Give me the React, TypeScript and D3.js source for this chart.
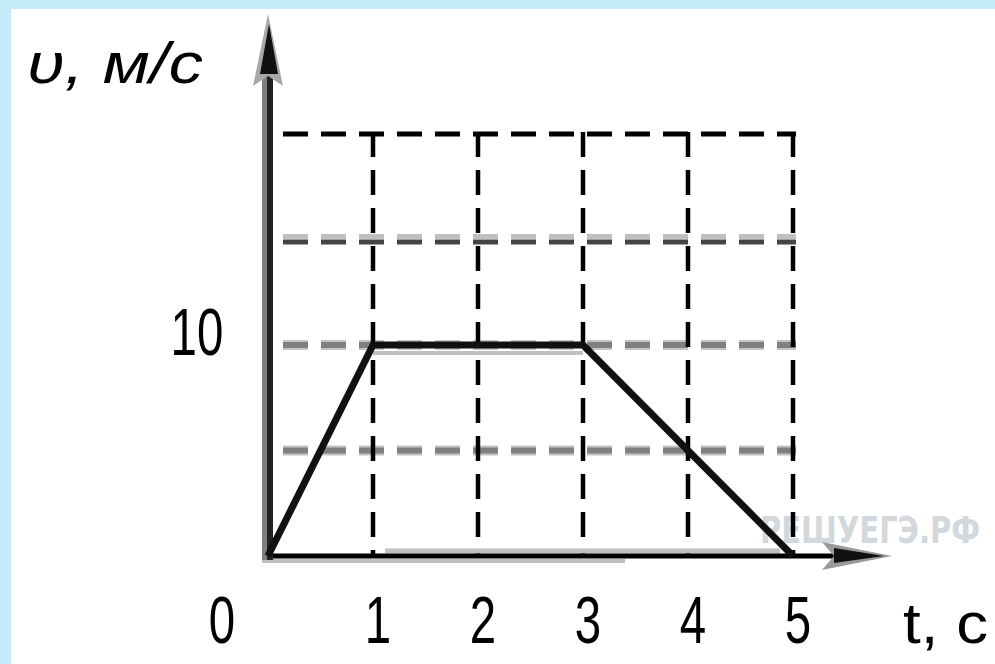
import React from "react";
import * as d3 from "d3";

const timeTicks = [1, 2, 3, 4, 5];
const speedGrid = [5, 10, 15, 20];
const tValues = [0, 1, 3, 5];
const vValues = [0, 10, 10, 0];
const xTickLabels = ["0", "1", "2", "3", "4", "5"];
const yTickLabel = "10";
const yAxisTitle = "υ, м/с";
const xAxisTitle = "t, с";
const watermark = "РЕШУЕГЭ.РФ";

const W = 995;
const H = 664;

export default function App() {
  const x = d3.scaleLinear().domain([0, 5]).range([268, 793]);
  const y = d3.scaleLinear().domain([0, 20]).range([556, 134]);
  const pts: [number, number][] = tValues.map((t, i) => [x(t), y(vValues[i])]);
  const line = d3.line<[number, number]>().x((d) => d[0]).y((d) => d[1]);
  const gridX0 = x(0) + 15;
  const gridX1 = x(5) + 3;
  const dash = "25 13";
  const digitFont = "'Liberation Sans', sans-serif";
  const digitAdv = 26.4;

  return (
    <svg
      width={W}
      height={H}
      style={{ position: "absolute", left: 0, top: 0 }}
      xmlns="http://www.w3.org/2000/svg"
    >
      <rect x={0} y={0} width={W} height={H} fill="#c6ebfb" />
      <rect x={11} y={9} width={W - 11} height={H - 9} fill="#ffffff" />

      {/* watermark */}
      <text
        x={760}
        y={543}
        fontFamily="'DejaVu Sans', sans-serif"
        fontWeight="bold"
        fontSize={38}
        fill="#d3d8dc"
        textLength={220}
        lengthAdjust="spacingAndGlyphs"
      >
        {watermark}
      </text>

      {/* horizontal grid */}
      {speedGrid.map((v) => {
        const yy = y(v);
        if (v === 20) {
          return (
            <line key={v} x1={gridX0} x2={gridX1} y1={yy} y2={yy} stroke="#000" strokeWidth={5} strokeDasharray={dash} />
          );
        }
        if (v === 15) {
          return (
            <g key={v}>
              <line x1={gridX0} x2={gridX1} y1={yy - 3} y2={yy - 3} stroke="#c0c0c0" strokeWidth={5} strokeDasharray={dash} />
              <line x1={gridX0} x2={gridX1} y1={yy + 2.5} y2={yy + 2.5} stroke="#444" strokeWidth={5} strokeDasharray={dash} />
            </g>
          );
        }
        return (
          <g key={v}>
            <line x1={gridX0} x2={gridX1} y1={yy} y2={yy} stroke="#c4c4c4" strokeWidth={10} strokeDasharray={dash} />
            <line x1={gridX0} x2={gridX1} y1={yy} y2={yy} stroke="#808080" strokeWidth={6} strokeDasharray={dash} />
          </g>
        );
      })}

      {/* vertical grid */}
      {timeTicks.map((t) => (
        <line
          key={t}
          x1={x(t)}
          x2={x(t)}
          y1={y(20) - 2}
          y2={y(0)}
          stroke="#000"
          strokeWidth={4.5}
          strokeDasharray={dash}
        />
      ))}

      {/* x axis */}
      <line x1={385} x2={780} y1={551} y2={551} stroke="#c0c0c0" strokeWidth={5} />
      <line x1={262} x2={625} y1={561} y2={561} stroke="#c0c0c0" strokeWidth={4} />
      <line x1={262} x2={860} y1={y(0)} y2={y(0)} stroke="#000" strokeWidth={5} />
      <polygon points="892,556 822,542 834,556 822,570" fill="#9a9a9a" />
      <polygon points="884,556 834,548 834,563" fill="#111" />

      {/* y axis */}
      <line x1={264.5} x2={264.5} y1={560} y2={70} stroke="#808080" strokeWidth={5} />
      <line x1={270} x2={270} y1={560} y2={70} stroke="#222" strokeWidth={6} />
      <polygon points="268,14 253,86 268,76 283,86" fill="#a8a8a8" />
      <polygon points="269,24 260,74 278,74" fill="#111" />

      {/* data line */}
      <line
        x1={pts[1][0]}
        x2={pts[2][0]}
        y1={pts[1][1] + 8}
        y2={pts[2][1] + 8}
        stroke="#c0c0c0"
        strokeWidth={4}
      />
      <path d={line(pts) || ""} fill="none" stroke="#111" strokeWidth={7} strokeLinejoin="miter" />

      {/* tick labels */}
      {xTickLabels.map((lab, i) => {
        const cx = i === 0 ? 222 : x(i) + 5;
        return (
          <text
            key={lab}
            x={cx - digitAdv / 2}
            y={643}
            fontFamily={digitFont}
            fontSize={66}
            fill="#000"
            textLength={digitAdv}
            lengthAdjust="spacingAndGlyphs"
          >
            {lab}
          </text>
        );
      })}
      <text
        x={197 - digitAdv}
        y={355}
        fontFamily={digitFont}
        fontSize={66}
        fill="#000"
        textLength={digitAdv * 2}
        lengthAdjust="spacingAndGlyphs"
      >
        {yTickLabel}
      </text>

      {/* axis titles */}
      <text
        x={27}
        y={83}
        fontFamily="'Liberation Sans', sans-serif"
        fontStyle="italic"
        fontSize={58}
        fill="#000"
        textLength={176}
        lengthAdjust="spacingAndGlyphs"
      >
        {yAxisTitle}
      </text>
      <text
        x={903}
        y={643}
        fontFamily="'Liberation Sans', sans-serif"
        fontSize={58}
        fill="#000"
        textLength={85}
        lengthAdjust="spacingAndGlyphs"
      >
        {xAxisTitle}
      </text>
    </svg>
  );
}
